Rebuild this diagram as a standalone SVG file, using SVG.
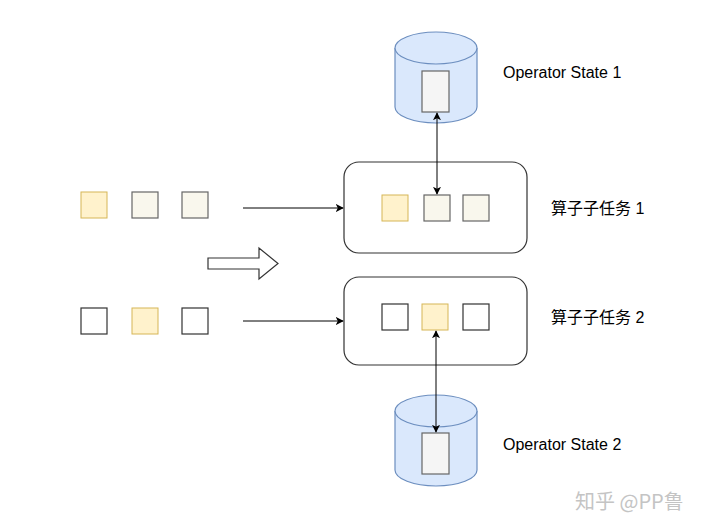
<svg xmlns="http://www.w3.org/2000/svg" width="720" height="528" viewBox="0 0 720 528">
<defs>
<marker id="ah" viewBox="0 0 10 10" refX="9" refY="5" markerWidth="8" markerHeight="8" orient="auto-start-reverse" markerUnits="userSpaceOnUse">
<path d="M0,0 L10,5 L0,10 L2.5,5 Z" fill="#000"/>
</marker>
<style>
.y{fill:#fff2cc;stroke:#d6b656;stroke-width:1}
.g{fill:#f9f7ed;stroke:#666;stroke-width:1.2}
.w{fill:#fff;stroke:#333;stroke-width:1.2}
.box{fill:#fff;stroke:#333;stroke-width:1.2}
.cyl{fill:#dae8fc;stroke:#6c8ebf;stroke-width:1.2}
.in{fill:#f5f5f5;stroke:#666;stroke-width:1.2}
.c{stroke:#000;stroke-width:1;fill:none}
.t{font-family:"Liberation Sans","Noto Sans CJK SC",sans-serif;font-size:16px;fill:#000}
</style>
</defs>
<rect width="720" height="528" fill="#fff"/>
<g id="input1">
<rect class="y" x="81" y="192" width="26" height="26"/>
<rect class="g" x="132" y="192" width="26" height="26"/>
<rect class="g" x="182" y="192" width="26" height="26"/>
</g>
<g id="input2">
<rect class="w" x="81" y="308" width="26" height="26"/>
<rect class="y" x="132" y="308" width="26" height="26"/>
<rect class="w" x="182" y="308" width="26" height="26"/>
</g>
<g id="bigarrow">
<path d="M208,258 L259,258 L259,248 L278,263.5 L259,279 L259,269 L208,269 Z" fill="#fff" stroke="#333" stroke-width="1.2"/>
</g>
<g id="task1">
<rect class="box" x="344" y="162" width="183" height="91" rx="15"/>
<rect class="y" x="382" y="195" width="26" height="26"/>
<rect class="g" x="424" y="195" width="26" height="26"/>
<rect class="g" x="463" y="195" width="26" height="26"/>
<text class="t" x="551" y="214">算子子任务 1</text>
</g>
<g id="task2">
<rect class="box" x="344" y="277" width="183" height="88" rx="15"/>
<rect class="w" x="382" y="304" width="26" height="26"/>
<rect class="y" x="422" y="304" width="26" height="26"/>
<rect class="w" x="463" y="304" width="26" height="26"/>
<text class="t" x="551" y="323">算子子任务 2</text>
</g>
<g id="state1">
<path class="cyl" d="M395,48 A41,16 0 0 1 477,48 L477,107 A41,16 0 0 1 395,107 Z"/>
<path class="cyl" d="M395,48 A41,16 0 0 0 477,48" fill="none"/>
<rect class="in" x="422" y="71" width="27" height="41"/>
<text class="t" x="503" y="78">Operator State 1</text>
</g>
<g id="state2">
<path class="cyl" d="M395,411 A41,16 0 0 1 477,411 L477,470 A41,16 0 0 1 395,470 Z"/>
<path class="cyl" d="M395,411 A41,16 0 0 0 477,411" fill="none"/>
<rect class="in" x="422" y="433" width="27" height="41"/>
<text class="t" x="503" y="450">Operator State 2</text>
</g>
<g id="connectors">
<line class="c" x1="243" y1="208" x2="343" y2="208" marker-end="url(#ah)"/>
<line class="c" x1="243" y1="321" x2="343" y2="321" marker-end="url(#ah)"/>
<line class="c" x1="437" y1="113" x2="437" y2="194" marker-start="url(#ah)" marker-end="url(#ah)"/>
<line class="c" x1="436" y1="331" x2="436" y2="432" marker-start="url(#ah)" marker-end="url(#ah)"/>
</g>
<text x="575" y="509" font-family="'Noto Sans CJK SC','Liberation Sans',sans-serif" font-size="20" fill="#c4c4c4">知乎 @PP鲁</text>
</svg>
